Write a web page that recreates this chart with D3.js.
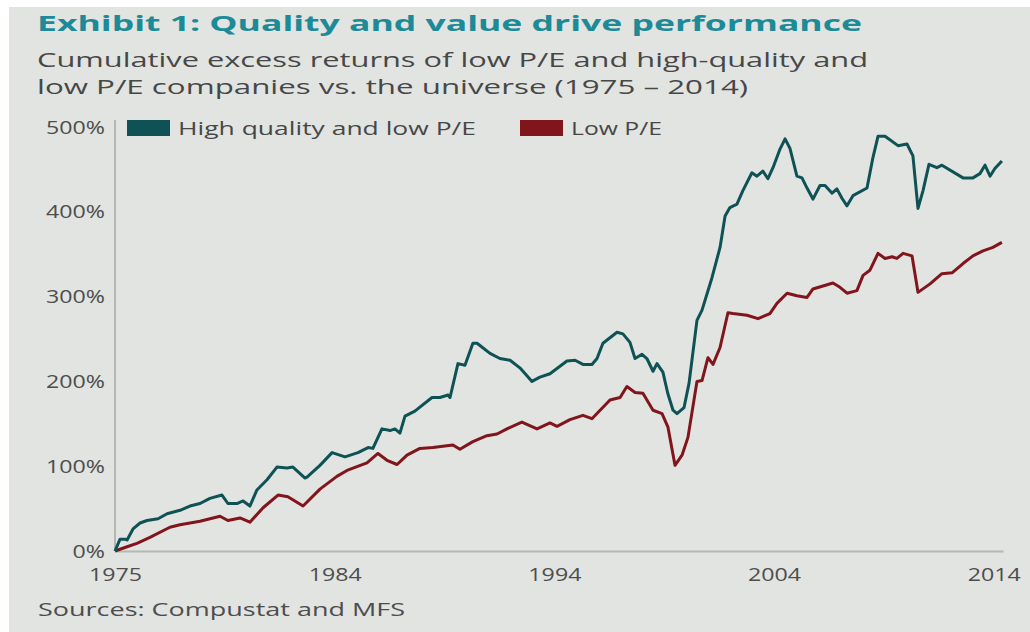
<!DOCTYPE html>
<html>
<head>
<meta charset="utf-8">
<script src="https://cdn.jsdelivr.net/npm/d3@7"></script>
<style>
  body { margin: 0; background: #fff; }
  svg { display: block; }
  text { font-family: "Open Sans", "Noto Sans", sans-serif; }
</style>
</head>
<body>
<svg id="chart" width="1030" height="632"></svg>
<script>
// series names, colours and axis labels
var seriesNames = ["High quality and low P/E", "Low P/E"];
var seriesColors = ["#0f5256", "#82141c"];
var xTickPos = [0, 10, 20, 30, 40];            // years from start of series
var xTickLabels = ["1975", "1984", "1994", "2004", "2014"];
var yTicks = [0, 100, 200, 300, 400, 500];

// [years from start, cumulative excess return %]
var highQualityLowPE = [
  [0,0],[0.23,14],[0.46,14],[0.55,13],[0.82,26],[1.14,33],[1.46,36],[1.96,38],[2.37,44],[2.96,48],
  [3.41,53],[3.87,56],[4.32,62],[4.87,66],[5.14,56],[5.55,56],[5.83,59],[6.14,53],[6.46,72],[6.92,84],
  [7.37,99],[7.83,98],[8.10,99],[8.65,86],[8.74,87],[9.33,101],[9.88,116],[10.47,111],[11.06,116],[11.52,122],
  [11.74,121],[12.15,144],[12.52,142],[12.74,144],[12.97,139],[13.20,159],[13.65,165],[14.43,181],[14.79,181],[15.16,184],
  [15.25,181],[15.61,221],[15.93,219],[16.29,245],[16.48,245],[17.07,233],[17.52,227],[17.98,225],[18.43,216],[18.98,200],
  [19.34,205],[19.80,209],[20.57,224],[20.94,225],[21.30,220],[21.71,220],[21.94,227],[22.21,245],[22.85,258],[23.12,256],
  [23.44,246],[23.67,227],[23.99,232],[24.21,227],[24.49,212],[24.67,221],[24.94,211],[25.16,186],[25.40,166],[25.58,162],
  [25.90,169],[26.13,198],[26.49,272],[26.72,284],[27.17,322],[27.54,358],[27.77,395],[27.99,405],[28.31,409],[28.58,425],
  [28.99,446],[29.22,442],[29.49,448],[29.72,439],[29.95,452],[30.27,474],[30.50,486],[30.72,475],[31.04,442],[31.27,440],
  [31.50,428],[31.77,415],[32.09,431],[32.32,431],[32.64,422],[32.86,427],[33.09,416],[33.32,407],[33.59,419],[34.23,428],
  [34.50,464],[34.73,489],[35.05,489],[35.64,478],[36.05,480],[36.32,466],[36.55,404],[36.78,425],[37.05,456],[37.41,452],
  [37.64,455],[38.60,440],[39.05,440],[39.37,445],[39.60,455],[39.83,442],[40.05,451],[40.37,460]
];

var lowPE = [
  [0,0],[0.55,5],[1.00,9],[1.59,16],[2.50,28],[2.96,31],[3.87,35],[4.78,41],[5.14,36],[5.69,39],
  [6.14,34],[6.74,51],[7.42,66],[7.87,64],[8.56,53],[9.33,73],[10.10,88],[10.56,95],[11.47,104],[11.97,115],
  [12.38,107],[12.84,102],[13.29,113],[13.88,121],[14.47,122],[15.38,125],[15.70,120],[16.29,129],[16.93,136],[17.39,138],
  [17.84,144],[18.52,152],[19.21,144],[19.80,151],[20.12,147],[20.71,155],[21.30,160],[21.71,156],[22.53,178],[22.99,181],
  [23.30,194],[23.67,187],[24.03,186],[24.49,166],[24.90,162],[25.17,146],[25.49,101],[25.81,113],[26.08,134],[26.49,200],
  [26.72,201],[26.99,228],[27.22,220],[27.54,240],[27.90,281],[28.13,280],[28.77,278],[29.27,274],[29.81,280],[30.13,292],
  [30.59,304],[31.04,301],[31.50,299],[31.77,309],[32.68,316],[33.00,311],[33.32,304],[33.77,307],[34.05,325],[34.36,331],
  [34.73,351],[35.05,345],[35.37,347],[35.59,345],[35.87,351],[36.28,348],[36.55,305],[37.10,315],[37.64,327],[38.10,328],
  [38.60,339],[39.05,348],[39.51,354],[39.96,358],[40.37,364]
];

var svg = d3.select("#chart"),
    margin = {top: 127, right: 27, bottom: 81, left: 115},
    width = +svg.attr("width") - margin.left - margin.right,
    height = +svg.attr("height") - margin.top - margin.bottom;

// panel background
svg.append("rect")
    .attr("x", 9).attr("y", 7)
    .attr("width", 1030 - 9).attr("height", 632 - 7)
    .attr("fill", "#e1e4e0");

// the original is stretched sideways, so texts are fitted to their measured widths
function fit(sel, w) {
  sel.attr("textLength", w).attr("lengthAdjust", "spacingAndGlyphs");
}

fit(svg.append("text")
    .attr("x", 37).attr("y", 31)
    .attr("font-size", 22).attr("font-weight", "bold")
    .attr("fill", "#1d8a98")
    .text("Exhibit 1: Quality and value drive performance"), 825);
fit(svg.append("text")
    .attr("x", 37).attr("y", 67)
    .attr("font-size", 20).attr("fill", "#474747")
    .text("Cumulative excess returns of low P/E and high-quality and"), 831);
fit(svg.append("text")
    .attr("x", 37).attr("y", 94)
    .attr("font-size", 20).attr("fill", "#474747")
    .text("low P/E companies vs. the universe (1975 \u2013 2014)"), 711);
fit(svg.append("text")
    .attr("x", 38).attr("y", 616)
    .attr("font-size", 19).attr("fill", "#4d4d4d")
    .text("Sources: Compustat and MFS"), 367);

var g = svg.append("g").attr("transform", "translate(" + margin.left + "," + margin.top + ")");

var x = d3.scaleLinear().domain([0, 40.42]).range([0, width]);
var y = d3.scaleLinear().domain([0, 500]).range([height, 0]);

var yAxis = g.append("g")
    .attr("class", "axis axis--y")
    .call(d3.axisLeft(y).tickValues(yTicks).tickSize(0).tickPadding(10)
      .tickFormat(function(d) { return d + "%"; }));
yAxis.select(".domain").attr("stroke", "#b4b7b4").attr("stroke-width", 2)
    .attr("d", "M0," + (height) + "V-7");

var xAxis = g.append("g")
    .attr("class", "axis axis--x")
    .attr("transform", "translate(0," + height + ")")
    .call(d3.axisBottom(x).tickValues(xTickPos).tickSize(0).tickPadding(17)
      .tickFormat(function(d, i) { return xTickLabels[i]; }));
xAxis.select(".domain").attr("stroke", "#b4b7b4").attr("stroke-width", 2);

g.selectAll(".axis text")
    .attr("font-family", "\"Open Sans\", sans-serif")
    .attr("font-size", 19)
    .attr("fill", "#4d4d4d")
    .each(function() {
      var w = this.getComputedTextLength();
      fit(d3.select(this), w * 1.22);
    });

var line = d3.line()
    .x(function(d) { return x(d[0]); })
    .y(function(d) { return y(d[1]); });

g.selectAll(".serie")
    .data([lowPE, highQualityLowPE])
    .enter().append("path")
      .attr("class", "serie")
      .attr("fill", "none")
      .attr("stroke", function(d, i) { return seriesColors[1 - i]; })
      .attr("stroke-width", 3)
      .attr("stroke-linejoin", "round")
      .attr("d", line);

// legend
var legendX = [127, 520], legendW = [298, 91];
var legend = svg.selectAll(".legend")
    .data(seriesNames)
    .enter().append("g")
      .attr("class", "legend")
      .attr("transform", function(d, i) { return "translate(" + legendX[i] + ",120)"; });
legend.append("rect")
    .attr("width", 43)
    .attr("height", 16)
    .attr("fill", function(d, i) { return seriesColors[i]; });
legend.append("text")
    .attr("x", 51)
    .attr("y", 15)
    .attr("font-size", 19)
    .attr("fill", "#474747")
    .text(function(d) { return d; })
    .each(function(d, i) { fit(d3.select(this), legendW[i]); });
</script>
</body>
</html>
